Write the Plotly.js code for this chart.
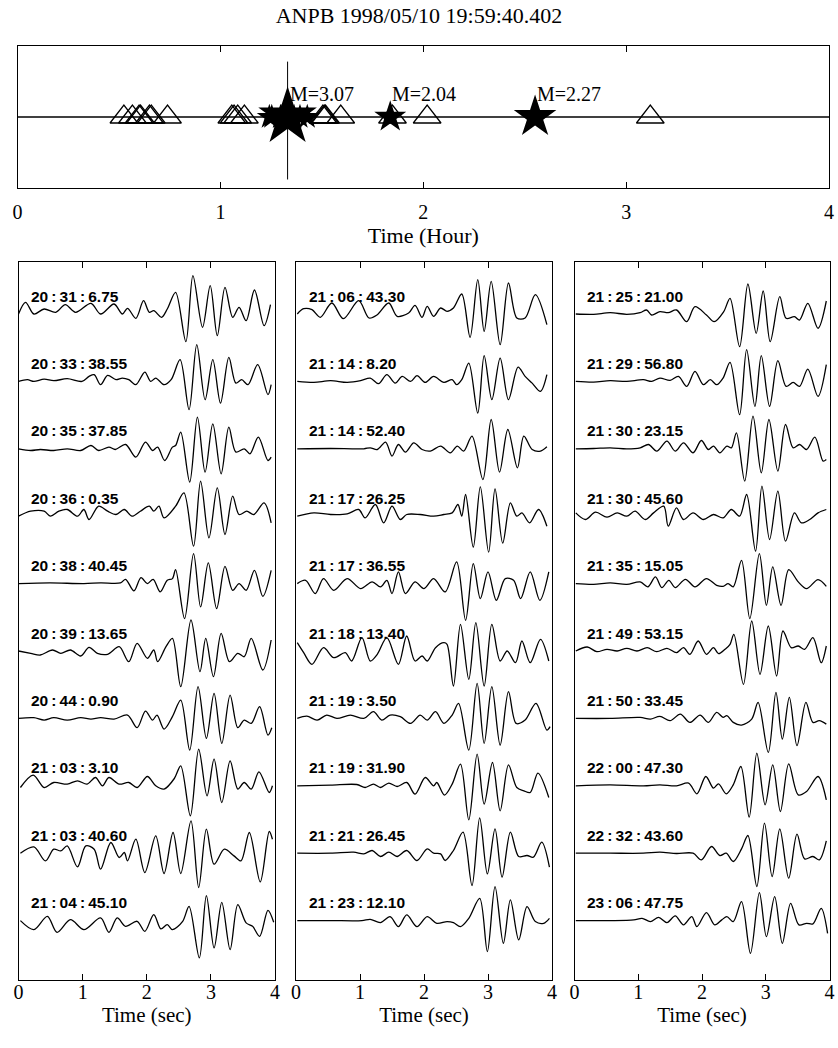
<!DOCTYPE html>
<html><head><meta charset="utf-8">
<script src="https://cdn.plot.ly/plotly-3.0.1.min.js"></script>
<style>html,body{margin:0;padding:0;background:#fff}#chart{width:838px;height:1048px}</style>
</head><body><div id="chart"></div>
<script>
// ---------------- DATA ----------------
const titleText = 'ANPB 1998/05/10 19:59:40.402';
const hourTicks = [0, 1, 2, 3, 4];
const secTicks = [0, 1, 2, 3, 4];

// event times (hours after 19:59:40.402)
const triangleHours = [0.524, 0.566, 0.599, 0.606, 0.650, 0.659, 0.739, 1.056, 1.067, 1.085, 1.118,
  1.505, 1.512, 1.518, 1.593, 1.848, 2.019, 3.119];
const smallStarHours = [1.241, 1.253, 1.296, 1.299, 1.309, 1.323, 1.363, 1.392, 1.428];
const magHours = [1.331, 1.837, 2.551];
const magValues = [3.07, 2.04, 2.27];

const labels1 = ['20:31:6.75', '20:33:38.55', '20:35:37.85', '20:36:0.35', '20:38:40.45',
  '20:39:13.65', '20:44:0.90', '21:03:3.10', '21:03:40.60', '21:04:45.10'];
const labels2 = ['21:06:43.30', '21:14:8.20', '21:14:52.40', '21:17:26.25', '21:17:36.55',
  '21:18:13.40', '21:19:3.50', '21:19:31.90', '21:21:26.45', '21:23:12.10'];
const labels3 = ['21:25:21.00', '21:29:56.80', '21:30:23.15', '21:30:45.60', '21:35:15.05',
  '21:49:53.15', '21:50:33.45', '22:00:47.30', '22:32:43.60', '23:06:47.75'];

// waveforms: [time (s), amplitude]
const w01 = [[0,0],[0.11,11.7],[0.24,0],[0.40,5],[0.58,1.7],[0.73,9.3],[0.89,1.7],[1.13,10.7],[1.28,0],[1.49,10],[1.62,0],[1.70,5.7],[1.83,-4.3],[1.95,13.3],[2.04,1.7],[2.11,3.3],[2.23,-3.3],[2.32,5],[2.45,21.7],[2.61,-27.7],[2.72,38.3],[2.87,-13.3],[2.99,28.3],[3.10,-21.7],[3.22,26.7],[3.34,-3.3],[3.44,6.7],[3.55,-6.7],[3.68,24],[3.83,-11.7],[3.93,9.3]];
const w02 = [[0,0],[0.14,1.7],[0.24,0],[0.40,2.3],[0.55,0.7],[0.76,2.7],[0.99,0],[1.10,5],[1.18,6.7],[1.28,-3.3],[1.39,6],[1.52,1.7],[1.62,3.3],[1.72,1.7],[1.83,-3.3],[1.97,9.3],[2.06,0],[2.14,3.3],[2.27,-3.3],[2.38,1.7],[2.52,21.7],[2.66,-28.3],[2.78,36.7],[2.91,-18.3],[3.03,21.7],[3.15,-21.7],[3.28,24],[3.39,-1.7],[3.48,1.7],[3.58,-3.3],[3.73,16.7],[3.89,-13.3],[3.94,-3.3]];
const w03 = [[0,0],[0.19,-1.7],[0.34,-0.7],[0.55,-1.7],[0.76,0],[0.97,-1.7],[1.13,3.3],[1.25,-1.7],[1.41,1.7],[1.51,-0.7],[1.67,4.3],[1.83,-8.3],[1.98,6.7],[2.09,-1.7],[2.17,1.7],[2.28,-11.7],[2.40,1.7],[2.45,3.3],[2.53,16.7],[2.67,-33.3],[2.79,31.7],[2.91,-23.3],[3.03,25],[3.16,-25],[3.28,21.7],[3.39,-3.3],[3.52,0],[3.61,-5],[3.74,11.7],[3.89,-11.7],[3.94,-8.3]];
const w04 = [[0,0],[0.19,5],[0.40,5],[0.50,0],[0.63,5],[0.76,6.7],[0.92,0],[1.02,6.7],[1.10,-3.3],[1.25,10],[1.39,5],[1.52,1.7],[1.65,6.7],[1.77,0],[1.90,5],[2.04,10],[2.11,5],[2.19,10],[2.27,-1.7],[2.45,10],[2.58,23.3],[2.73,-30],[2.84,35],[2.97,-21.7],[3.10,28.3],[3.22,-18.3],[3.34,20],[3.44,1.7],[3.56,5],[3.67,1.7],[3.83,13.3],[3.94,-6.7]];
const w05 = [[0,0],[0.49,0.7],[1.02,0],[1.28,0.7],[1.59,0.7],[1.67,4.3],[1.80,-7.3],[1.91,6],[2.01,0],[2.10,4.3],[2.21,-8.3],[2.32,3.3],[2.40,5],[2.45,14],[2.59,-35],[2.73,30],[2.84,-23.3],[2.96,20.7],[3.09,-25],[3.22,17.3],[3.34,-6.7],[3.44,0],[3.55,-6.7],[3.68,13.3],[3.81,-12.7],[3.94,13.3]];
const w06 = [[0,0],[0.19,-2.3],[0.34,-4],[0.53,1],[0.66,-2.3],[0.81,1],[0.97,-5],[1.10,3.7],[1.23,-2.3],[1.39,-3.3],[1.57,4.3],[1.72,-10.7],[1.85,7.7],[2.01,-7.3],[2.11,1],[2.17,-10.7],[2.30,4.3],[2.40,12.7],[2.53,-35.7],[2.69,31],[2.83,-20.7],[2.92,12.7],[3.04,-25.7],[3.16,17.7],[3.29,-10.7],[3.42,-2.3],[3.52,-5.7],[3.63,12.7],[3.81,-19],[3.94,11]];
const w07 = [[0,0],[0.24,0.7],[0.40,-1.7],[0.55,0.7],[0.76,-1.7],[0.97,0.7],[1.13,-0.7],[1.28,0.7],[1.49,-0.7],[1.70,3.3],[1.85,-9.3],[1.98,7.3],[2.09,-1.7],[2.16,3.3],[2.27,-10.7],[2.40,1.7],[2.53,18.3],[2.67,-31.7],[2.80,31.7],[2.93,-20],[3.05,25],[3.17,-25],[3.30,23.3],[3.42,-9.3],[3.52,-1.7],[3.63,-5],[3.76,11.7],[3.89,-16.7],[3.95,-9.3]];
const w08 = [[0.03,-1.7],[0.23,10.7],[0.40,-1.7],[0.55,3.3],[0.76,1.7],[0.92,5],[1.07,1.7],[1.20,8.3],[1.31,0],[1.41,8.3],[1.57,1.7],[1.72,3.3],[1.85,-1.7],[2.01,9.3],[2.14,0],[2.27,-3.3],[2.43,7.3],[2.53,20],[2.68,-30],[2.81,36.7],[2.94,-10],[3.05,26.7],[3.17,-16.7],[3.30,25],[3.42,-3.3],[3.52,3.3],[3.63,-3.3],[3.75,14],[3.91,-6.7],[3.96,0]];
const w09 = [[0.03,0],[0.24,6.3],[0.42,-7.7],[0.55,4],[0.66,2.3],[0.76,7.3],[0.92,-13.7],[1.05,7.3],[1.18,4],[1.28,-16],[1.44,10.7],[1.57,-4.3],[1.65,0.7],[1.70,-7.7],[1.83,14],[1.97,-19.3],[2.14,17.3],[2.27,-20.3],[2.41,20.7],[2.53,-20.3],[2.69,32.3],[2.81,-34.3],[2.93,24],[3.05,-11],[3.21,4],[3.36,-2.7],[3.47,-7.7],[3.60,20.7],[3.77,-28.7],[3.91,21.7],[3.96,14]];
const w10 = [[0.03,0],[0.24,-9],[0.45,4.3],[0.60,-11.7],[0.81,1],[1.02,-9],[1.28,2.7],[1.41,-11.7],[1.54,2.7],[1.67,-5.7],[1.85,-0.7],[1.97,-10.7],[2.11,6],[2.22,-8.3],[2.32,-4],[2.40,-9],[2.56,-0.7],[2.66,14.3],[2.82,-37.3],[2.93,25],[3.05,-27.3],[3.17,18.3],[3.30,-29],[3.42,16],[3.55,-2.3],[3.65,-5.7],[3.76,-15.7],[3.89,10.3],[3.98,-1.7]];
const w11 = [[0.02,0],[0.12,5.3],[0.25,4.3],[0.38,-3.3],[0.56,11],[0.74,-4.7],[0.98,13.3],[1.14,-4],[1.27,-0.7],[1.45,11],[1.58,-2.3],[1.76,1],[1.86,8.7],[1.97,-3.3],[2.05,7.7],[2.15,-2.3],[2.26,6],[2.36,2.7],[2.46,6],[2.59,20],[2.72,-23.3],[2.84,34.3],[2.94,-17.3],[3.05,32.7],[3.19,-30.7],[3.32,31],[3.45,-4],[3.58,-4],[3.74,19.3],[3.92,-10.7]];
const w12 = [[0.02,0],[0.28,-1],[0.54,0.7],[0.80,-1],[1.01,0.7],[1.16,3.3],[1.29,-2.3],[1.42,6.7],[1.55,-1.7],[1.66,5],[1.79,0],[1.89,5.7],[2.02,-1],[2.15,5],[2.31,-1],[2.44,1.7],[2.51,-3.3],[2.59,1.7],[2.70,18.3],[2.84,-31.7],[2.94,25.7],[3.06,-18.3],[3.19,23.3],[3.32,-18.3],[3.47,14.3],[3.58,5],[3.69,-1.7],[3.82,-10],[3.92,6.7]];
const w13 = [[0.02,0],[0.54,0.3],[1.06,0],[1.16,1],[1.27,-0.7],[1.40,6.7],[1.50,-7.3],[1.60,4.3],[1.71,-3.3],[1.84,6],[1.97,-0.7],[2.10,-2.3],[2.26,2.7],[2.41,-4],[2.52,2.7],[2.62,-2.3],[2.75,12.7],[2.92,-30.7],[3.05,29.3],[3.18,-23.3],[3.31,19.3],[3.46,-19],[3.56,12.7],[3.69,-0.7],[3.82,-2.3],[3.92,2]];
const w14 = [[0.02,0],[0.28,3.3],[0.54,1.7],[0.80,2.3],[0.98,6.7],[1.08,-1.7],[1.24,11.7],[1.37,-6.7],[1.50,10],[1.63,-3.3],[1.73,1.7],[1.94,1.7],[2.15,0],[2.31,1.7],[2.44,3.3],[2.53,11.7],[2.59,0],[2.65,21.7],[2.77,-31],[2.88,29.3],[3.01,-36],[3.11,27.3],[3.23,-27],[3.35,13.3],[3.45,0],[3.53,3.3],[3.65,-6.7],[3.79,6.7],[3.92,-10]];
const w15 = [[0.02,0],[0.15,3.3],[0.30,-10],[0.43,5],[0.59,-6.7],[0.80,5],[1.01,-5],[1.19,1.7],[1.32,-3.3],[1.42,3.3],[1.50,-10],[1.60,11.7],[1.71,-10],[1.86,1.7],[2.00,-5],[2.15,5],[2.33,-8.3],[2.51,21.7],[2.65,-36.7],[2.77,20],[2.88,-15],[3.00,11.7],[3.13,-16.7],[3.27,5],[3.40,3.3],[3.51,-15],[3.66,11.7],[3.81,-16.7],[3.95,11.7]];
const w16 = [[0.02,8.3],[0.12,-1.7],[0.25,-13.3],[0.43,3.3],[0.59,-6.7],[0.77,-1.7],[0.87,-10],[1.03,13.3],[1.16,-10],[1.27,-3.3],[1.42,13.3],[1.60,-13.3],[1.73,15],[1.86,-10],[1.97,-5],[2.05,-10],[2.18,3.3],[2.31,8.3],[2.36,6.7],[2.46,-35],[2.57,26.7],[2.70,-28.3],[2.81,28.3],[2.94,-35],[3.06,26.7],[3.19,-10],[3.30,0],[3.43,-11.7],[3.53,10],[3.66,-11.7],[3.82,11.7],[3.95,-10]];
const w17 = [[0.02,0],[0.17,2.3],[0.33,-1.7],[0.48,3.3],[0.64,0],[0.85,3.3],[1.06,0],[1.21,6.7],[1.34,-1.7],[1.47,3.3],[1.63,1.7],[1.79,-5],[1.94,3.3],[2.05,-1.7],[2.18,6.7],[2.31,-5],[2.44,3.3],[2.54,15],[2.70,-31.7],[2.83,35],[2.94,-25],[3.06,31.7],[3.19,-26.7],[3.32,26.7],[3.44,-5],[3.58,-1.7],[3.75,15],[3.92,-11.7],[3.97,-8.3]];
const w18 = [[0.02,0],[0.54,0.7],[0.95,1.3],[1.08,-1.7],[1.21,1.7],[1.32,-1.7],[1.45,2.7],[1.58,-0.7],[1.73,3.3],[1.86,-8.3],[2.02,8.3],[2.15,0],[2.20,3.3],[2.32,-9.3],[2.44,1.7],[2.57,21.7],[2.70,-34],[2.83,31.7],[2.94,-18.3],[3.07,23.3],[3.19,-25],[3.32,21],[3.45,-1.7],[3.56,-5],[3.66,-6.7],[3.78,12.7],[3.95,-11.7]];
const w19 = [[0.02,0],[0.54,0],[0.90,1],[1.06,-0.7],[1.19,2.7],[1.32,-3.3],[1.45,1],[1.58,-3.3],[1.73,2.7],[1.89,-7.3],[2.05,4.3],[2.15,0],[2.26,-0.7],[2.33,-7.3],[2.46,2.7],[2.61,21],[2.75,-32.3],[2.87,35.3],[2.99,-20.7],[3.11,24.3],[3.22,-24],[3.35,21],[3.48,-3.3],[3.61,-2.3],[3.71,-4],[3.84,11],[3.96,-14]];
const w20 = [[0.02,0],[0.54,0],[1.03,0],[1.16,1.3],[1.32,-2],[1.47,4],[1.60,-6],[1.73,5.7],[1.89,-6],[2.05,4],[2.20,-2.7],[2.36,-1],[2.46,-2],[2.57,-6],[2.70,2.3],[2.87,22.3],[2.99,-31],[3.11,34],[3.24,-22.7],[3.35,20.7],[3.48,-19.3],[3.61,14],[3.74,-1],[3.87,-2.7],[3.96,2.3]];
const w21 = [[0.02,0],[0.30,-0.3],[0.56,1.3],[0.82,-0.3],[1.03,1.3],[1.13,4],[1.21,-1],[1.34,2.3],[1.47,1.3],[1.60,4],[1.76,-7.7],[1.89,7.3],[2.07,-1],[2.19,-7.7],[2.34,2.3],[2.44,15.7],[2.59,-32.7],[2.72,30],[2.85,-19.3],[2.96,23],[3.07,-27.7],[3.22,17.3],[3.32,-4.3],[3.45,-2.7],[3.53,-6],[3.66,10.7],[3.82,-14.3],[3.95,13]];
const w22 = [[0.02,0],[0.30,-0.7],[0.56,0.7],[0.82,0],[1.08,1.7],[1.21,0],[1.34,3.3],[1.50,1],[1.63,5],[1.76,-5],[1.89,10],[2.02,-3.3],[2.13,1.7],[2.23,-3.3],[2.33,3.3],[2.44,19],[2.59,-33.3],[2.70,31.7],[2.83,-25],[2.93,25.7],[3.06,-25],[3.19,20.7],[3.32,-5],[3.43,-1],[3.53,-5],[3.66,12.3],[3.82,-15],[3.95,16.7]];
const w23 = [[0.02,0],[0.30,0.3],[0.56,1],[0.82,0],[1.03,1],[1.16,4.3],[1.29,-2.3],[1.45,7.7],[1.58,-2.3],[1.71,6],[1.86,-4],[1.99,8.3],[2.10,-0.7],[2.18,2.7],[2.28,-4],[2.39,2.7],[2.46,1],[2.54,16],[2.67,-32.3],[2.80,32.7],[2.93,-24],[3.05,29.3],[3.19,-22.3],[3.31,24.3],[3.43,1],[3.53,4.3],[3.64,-0.7],[3.77,11.7],[3.90,-12.3],[3.95,-10.7]];
const w24 = [[0.02,3.3],[0.17,-3.3],[0.33,4],[0.51,-1],[0.67,3.3],[0.82,0],[0.95,5],[1.11,-3.3],[1.24,3.3],[1.40,10],[1.47,-10],[1.60,8.3],[1.71,-3.3],[1.86,3.3],[2.02,-3.3],[2.18,1.7],[2.33,-1.7],[2.46,6.7],[2.59,0],[2.70,21.7],[2.84,-35],[2.94,30],[3.06,-23.3],[3.19,25],[3.31,-25],[3.45,3.3],[3.56,-6.7],[3.69,-3.3],[3.82,3.3],[3.95,6.7]];
const w25 = [[0.02,0],[0.30,-0.7],[0.56,0.7],[0.82,-0.7],[1.03,1.7],[1.15,-3.3],[1.27,6.7],[1.37,-4],[1.48,3.3],[1.58,-4],[1.74,4.3],[1.89,-3.3],[2.07,5],[2.23,-1.7],[2.33,-2.7],[2.41,0],[2.49,-3.3],[2.62,23.3],[2.75,-35],[2.90,30],[3.01,-21.7],[3.11,16.7],[3.24,-21.7],[3.36,14],[3.51,1.7],[3.64,-5],[3.82,4],[3.95,-2.7]];
const w26 = [[0.02,0],[0.20,4],[0.35,-0.7],[0.51,1.7],[0.67,0],[0.82,2.7],[0.98,0],[1.14,3.3],[1.29,-0.7],[1.45,2.7],[1.60,-1.7],[1.71,3.3],[1.81,-3.3],[1.94,10],[2.07,-3.3],[2.18,3.3],[2.26,-2.7],[2.36,1.7],[2.44,6.7],[2.50,16.7],[2.65,-33.3],[2.78,30],[2.91,-23.3],[3.04,25],[3.17,-25],[3.27,20],[3.40,3.3],[3.51,5],[3.61,1.7],[3.74,13.3],[3.87,-11.7],[3.95,5]];
const w27 = [[0.02,0],[0.56,0],[1.03,1],[1.19,-0.7],[1.34,2],[1.50,-2.3],[1.66,4.3],[1.81,-4],[1.97,3.3],[2.10,-4],[2.23,6],[2.33,1],[2.39,2.7],[2.49,-4],[2.62,-6.7],[2.78,-0.7],[2.88,16],[3.04,-34],[3.16,26],[3.26,-20.7],[3.37,21],[3.49,-27.3],[3.63,16],[3.74,-4],[3.84,-2.3],[3.95,-5.7]];
const w28 = [[0.02,0],[0.56,1],[1.08,0],[1.34,1],[1.60,0],[1.79,2.7],[1.92,-8],[2.06,9.3],[2.18,-2.3],[2.26,2],[2.38,-8],[2.49,1],[2.61,19.3],[2.74,-31.3],[2.86,32.7],[2.99,-19],[3.11,21],[3.23,-25.7],[3.36,22],[3.51,-9],[3.64,-5.7],[3.82,9.3],[3.95,-14]];
const w29 = [[0.02,0],[0.56,0],[1.08,0],[1.34,1],[1.60,-0.3],[1.86,0],[1.99,-6.7],[2.15,6.7],[2.28,-2.3],[2.38,0],[2.49,-8.3],[2.62,4.3],[2.72,17.7],[2.86,-33.3],[2.98,30],[3.10,-23.3],[3.22,24.3],[3.36,-25],[3.49,19],[3.61,-5.7],[3.74,-3.3],[3.84,-6.7],[3.95,12.3]];
const w30 = [[0.02,0],[0.56,0],[0.93,0.7],[1.06,2.3],[1.19,-1],[1.32,3.3],[1.45,-2],[1.58,4.7],[1.71,-4.3],[1.84,4],[1.92,-6],[2.07,8],[2.20,-4.3],[2.31,0.7],[2.39,4],[2.49,-1],[2.62,19],[2.76,-32.7],[2.90,28],[3.01,-16],[3.14,24],[3.26,-22.7],[3.39,17.3],[3.52,-4.3],[3.64,-2.7],[3.74,-3.3],[3.87,12.3],[3.97,-12.7]];

const panelWaves = [
  [w01, w02, w03, w04, w05, w06, w07, w08, w09, w10],
  [w11, w12, w13, w14, w15, w16, w17, w18, w19, w20],
  [w21, w22, w23, w24, w25, w26, w27, w28, w29, w30]
];
const panelLabels = [labels1, labels2, labels3];

// ---------------- STYLE / LAYOUT ----------------
const W = 838, H = 1048;
const SERIF = 'Liberation Serif, Times New Roman, serif';
const SANS = 'Liberation Sans, Arial, sans-serif';
const SPACING = 67.4;         // vertical offset between traces (amplitude units = px)
const magStarSizes = [44, 24, 32];

function px2fx(a, b) { return [a / W, b / W]; }
function px2fy(top, bottom) { return [1 - bottom / H, 1 - top / H]; }

const traces = [];
const annotations = [];

// top panel
traces.push({ x: [0, 4], y: [0, 0], xaxis: 'x', yaxis: 'y', mode: 'lines',
  line: { color: '#000', width: 1.3 }, hoverinfo: 'skip' });
traces.push({ x: [magHours[0], magHours[0]], y: [-0.88, 0.78], xaxis: 'x', yaxis: 'y', mode: 'lines',
  line: { color: '#000', width: 1 }, hoverinfo: 'skip' });
traces.push({ x: triangleHours, y: triangleHours.map(() => 0), xaxis: 'x', yaxis: 'y', mode: 'markers',
  marker: { symbol: 'triangle-up-open', size: 24, color: '#000', opacity: 1, line: { width: 1.3, color: '#000' } } });
traces.push({ x: smallStarHours, y: smallStarHours.map(() => 0), xaxis: 'x', yaxis: 'y', mode: 'markers',
  marker: { symbol: 'star', size: 19, color: '#000', opacity: 1, line: { width: 0 } } });
traces.push({ x: magHours, y: magHours.map(() => 0), xaxis: 'x', yaxis: 'y', mode: 'markers',
  marker: { symbol: 'star', size: magStarSizes, color: '#000', opacity: 1, line: { width: 0 } } });
magHours.forEach((h, i) => {
  annotations.push({ x: h, y: 0.33, xref: 'x', yref: 'y', xanchor: 'left', yanchor: 'middle',
    text: 'M=' + magValues[i].toFixed(2), showarrow: false,
    font: { family: SERIF, size: 20, color: '#000' } });
});

// bottom panels
panelWaves.forEach((waves, p) => {
  const ax = String(p + 2);
  waves.forEach((w, k) => {
    traces.push({
      x: w.map(v => v[0]), y: w.map(v => v[1] - SPACING * k),
      xaxis: 'x' + ax, yaxis: 'y' + ax, mode: 'lines',
      line: { color: '#000', width: 1.3, shape: 'spline', smoothing: 0.9 }, hoverinfo: 'skip'
    });
    annotations.push({
      x: 0.17, y: 18 - SPACING * k, xref: 'x' + ax, yref: 'y' + ax,
      xanchor: 'left', yanchor: 'middle', showarrow: false,
      text: panelLabels[p][k].replace(/:/g, '\u2009:\u2009'),
      font: { family: SANS, size: 15.5, color: '#000', weight: 'bold' }
    });
  });
});

const commonX = {
  range: [0, 4], ticks: 'inside', ticklen: 6, tickwidth: 1, tickcolor: '#000',
  showline: true, linecolor: '#000', linewidth: 1, mirror: 'ticks',
  showgrid: false, zeroline: false, fixedrange: true,
  tickfont: { family: SERIF, size: 20, color: '#000' }
};
const commonY = {
  showline: true, linecolor: '#000', linewidth: 1, mirror: true,
  ticks: '', showticklabels: false, showgrid: false, zeroline: false, fixedrange: true
};

// bottom panel geometry (px): frame top 262, first baseline 314, frame bottom 980
const PANEL_TOP = 262, PANEL_BOTTOM = 980, FIRST_BASE = 314;
const yMax = FIRST_BASE - PANEL_TOP;
const yMin = -(PANEL_BOTTOM - FIRST_BASE);

const layout = {
  width: W, height: H, margin: { l: 0, r: 0, t: 0, b: 0 },
  paper_bgcolor: '#fff', plot_bgcolor: '#fff', showlegend: false,
  title: { text: titleText, x: 0.5, xanchor: 'center', y: 1 - 15 / H, yanchor: 'middle',
    yref: 'container', font: { family: SERIF, size: 22, color: '#000' } },
  xaxis: Object.assign({}, commonX, { domain: px2fx(17.6, 829), anchor: 'y', tickvals: hourTicks,
    ticklabelstandoff: 6, title: { text: 'Time (Hour)', standoff: 4, font: { family: SERIF, size: 22, color: '#000' } } }),
  yaxis: Object.assign({}, commonY, { domain: px2fy(46, 188), range: [-1, 1], anchor: 'x' }),
  annotations: annotations
};
const xd = [px2fx(18.5, 275), px2fx(296, 552), px2fx(574.5, 829.5)];
for (let p = 0; p < 3; p++) {
  const ax = String(p + 2);
  layout['xaxis' + ax] = Object.assign({}, commonX, { domain: xd[p], anchor: 'y' + ax, tickvals: secTicks,
    ticklabelstandoff: -6, title: { text: 'Time (sec)', standoff: 0, font: { family: SERIF, size: 21, color: '#000' } } });
  layout['yaxis' + ax] = Object.assign({}, commonY, { domain: px2fy(PANEL_TOP, PANEL_BOTTOM), range: [yMin, yMax], anchor: 'x' + ax });
}

Plotly.newPlot('chart', traces, layout, { staticPlot: true, displayModeBar: false });
</script>
</body></html>
